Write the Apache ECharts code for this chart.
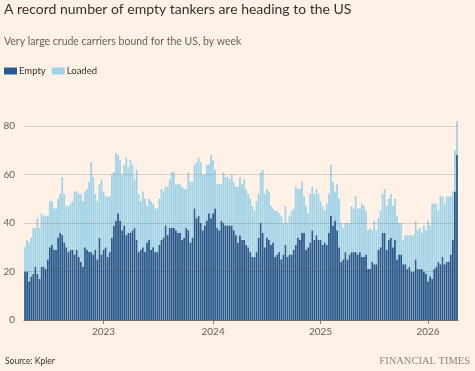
<!DOCTYPE html>
<html>
<head>
<meta charset="utf-8">
<script src="https://cdn.jsdelivr.net/npm/echarts@6/dist/echarts.min.js"></script>
<style>
html,body{margin:0;padding:0;background:#FFF1E5;}
#c{width:475px;height:371px;}
</style>
</head>
<body>
<div id="c"></div>
<script>
// Weekly categories (Monday of each week), first week starting 2022-04-04
const firstWeek = '2022-04-04';
const yearLabels = ['2023', '2024', '2025', '2026'];
const yTicks = [0, 20, 40, 60, 80];

// Empty VLCCs bound for the US, by week
const empty = [
  20,20,16,18,19,22,19,17,22,22,21,25,30,31,29,29,34,36,35,32,30,28,29,29,27,29,26,
  24,22,30,29,28,28,27,29,25,34,27,29,30,26,28,34,39,41,44,41,37,39,35,36,36,37,
  38,33,28,29,30,28,32,33,29,30,28,28,31,33,34,39,35,38,38,38,37,36,36,33,34,38,
  37,32,34,46,42,43,40,37,39,41,44,42,44,46,38,37,41,40,39,39,39,39,37,35,32,35,
  33,33,31,30,28,26,26,28,34,40,36,30,34,33,31,32,26,27,28,25,27,31,26,27,27,29,
  31,34,33,36,36,29,30,32,37,33,35,33,33,31,32,31,36,43,39,41,37,30,24,25,28,25,
  27,28,28,28,27,28,26,26,27,21,21,24,23,23,29,30,36,36,29,33,34,30,33,25,27,27,23,
  23,21,22,20,20,25,21,21,21,20,19,16,18,17,21,22,24,23,26,23,24,24,27,33,53,68
];
// Loaded VLCCs bound for the US, by week
const loaded = [
  10,13,16,16,19,16,23,21,22,21,22,18,19,18,17,17,16,16,24,20,17,19,19,20,26,24,26,
  28,27,23,25,29,37,32,23,24,22,31,24,21,25,23,26,22,28,24,25,23,25,32,27,30,27,
  20,29,24,20,23,22,15,17,20,18,18,18,19,21,19,16,20,20,23,23,19,20,20,22,20,16,
  24,25,23,18,23,24,25,23,21,23,20,26,22,16,18,19,15,21,20,20,19,21,20,20,23,24,
  23,25,23,22,22,21,19,21,18,21,26,22,20,20,16,14,19,18,16,18,13,16,14,16,18,17,
  24,20,21,21,15,18,14,20,18,19,19,19,16,16,13,17,16,21,18,12,19,20,16,13,12,15,
  13,19,18,23,19,18,22,21,18,16,17,13,18,14,13,15,16,18,18,17,18,17,17,18,13,13,10,
  12,14,13,15,15,16,16,17,15,19,18,25,21,31,27,26,21,28,25,25,27,27,24,20,17,14
];

// build week categories
const categories = [];
{
  const d0 = new Date(firstWeek + 'T00:00:00Z');
  for (let i = 0; i < empty.length; i++) {
    const d = new Date(d0.getTime() + i * 7 * 86400000);
    categories.push(d.toISOString().slice(0, 10));
  }
}
// week containing 1 January -> year label
function yearOfWeek(idx) {
  const d = new Date(categories[idx] + 'T00:00:00Z');
  for (let k = 0; k < 7; k++) {
    const dd = new Date(d.getTime() + k * 86400000);
    if (dd.getUTCMonth() === 0 && dd.getUTCDate() === 1) {
      const y = String(dd.getUTCFullYear());
      if (yearLabels.indexOf(y) >= 0) return y;
    }
  }
  return null;
}

const FONT = 'Lato, "Noto Sans", sans-serif';
const chart = echarts.init(document.getElementById('c'), null, {renderer: 'canvas'});
chart.setOption({
  backgroundColor: '#FFF1E5',
  animation: false,
  textStyle: {fontFamily: FONT},
  title: [
    {text: 'A record number of empty tankers are heading to the US', left: 4, top: 2, padding: 0,
     textStyle: {fontFamily: FONT, fontSize: 14, fontWeight: 'normal', color: '#33302E'}},
    {text: 'Very large crude carriers bound for the US, by week', left: 4, top: 36, padding: 0,
     textStyle: {fontFamily: FONT, fontSize: 10.5, fontWeight: 'normal', color: '#66605C'}}
  ],
  legend: {
    left: 4, top: 66, padding: 0, itemWidth: 13, itemHeight: 7, itemGap: 6,
    icon: 'rect',
    textStyle: {fontFamily: FONT, fontSize: 9.5, color: '#33302E', padding: [0, 0, 0, -3]},
    data: ['Empty', 'Loaded']
  },
  grid: {left: 24, right: 17, top: 126, bottom: 51, containLabel: false},
  xAxis: {
    type: 'category',
    data: categories,
    axisLine: {show: true, lineStyle: {color: '#7f7a76', width: 1}},
    axisTick: {show: true, alignWithLabel: true, length: 4, lineStyle: {color: '#7f7a76'},
      interval: function (i) { return yearOfWeek(i) !== null; }},
    axisLabel: {show: true, margin: 7, color: '#66605C', fontSize: 10, fontFamily: FONT,
      interval: function (i) { return yearOfWeek(i) !== null; },
      formatter: function (v, i) { return yearOfWeek(i) || ''; }},
    splitLine: {show: false}
  },
  yAxis: {
    type: 'value', min: yTicks[0], max: yTicks[yTicks.length - 1], interval: 20,
    z: 5,
    axisLine: {show: false}, axisTick: {show: false},
    axisLabel: {color: '#66605C', fontSize: 10, margin: 9, fontFamily: FONT},
    splitLine: {show: true, lineStyle: {color: 'rgba(90,60,40,0.18)', width: 1}}
  },
  series: [
    {name: 'Empty', type: 'bar', stack: 'v', data: empty, clip: false,
     barCategoryGap: '14%', itemStyle: {color: '#275a8e'}},
    {name: 'Loaded', type: 'bar', stack: 'v', data: loaded, clip: false,
     barCategoryGap: '14%', itemStyle: {color: '#9ed3e8'}}
  ],
  graphic: [
    {type: 'text', left: 5, top: 357, style: {text: 'Source: Kpler', fontFamily: FONT, fontSize: 8.5, fill: '#33302E'}},
    {type: 'text', right: 5, top: 356, style: {text: 'FINANCIAL TIMES', fontFamily: '"Liberation Serif", "DejaVu Serif", serif', fontSize: 10.5, fill: '#8d8782'}}
  ]
});
</script>
</body>
</html>
